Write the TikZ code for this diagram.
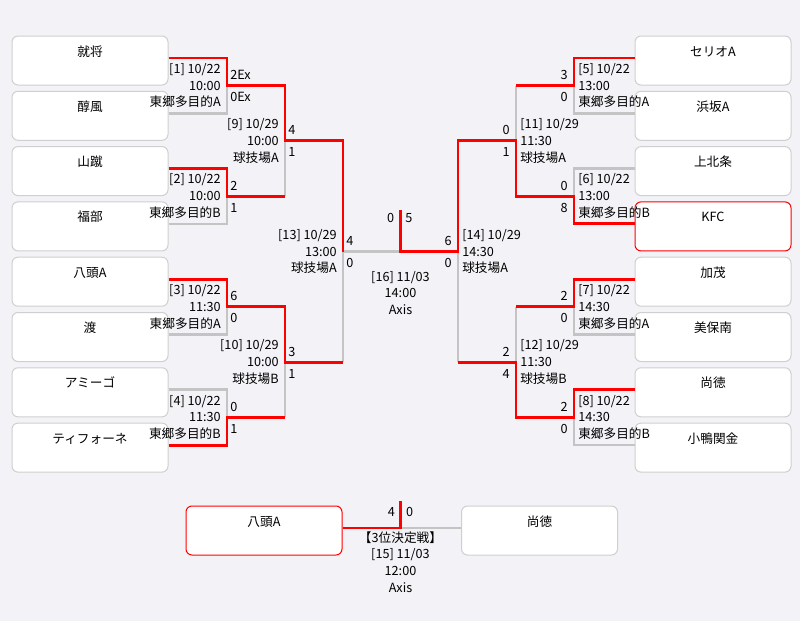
\documentclass[tikz,border=0pt]{standalone}
\usepackage{fontspec}
\setmainfont{Noto Sans CJK JP}
\usetikzlibrary{positioning}
\definecolor{bgcol}{HTML}{F3F2F6}
\definecolor{boxcol}{HTML}{CFCFCF}
\definecolor{losscol}{HTML}{C4C4C4}
\definecolor{wincol}{HTML}{FF0000}
\tikzset{
  teambox/.style={draw=boxcol,fill=white,rounded corners=4.5pt,line width=0.75pt,minimum width=117pt,minimum height=36.75pt,inner sep=0pt,text height=15pt,text depth=21.75pt},
  champbox/.style={teambox,draw=wincol},
  lossline/.style={draw=losscol,line width=2pt},
  winline/.style={draw=wincol,line width=2.2pt},
  linfo/.style={anchor=east,xshift=-4.5pt,align=right,inner sep=0pt},
  rinfo/.style={anchor=west,xshift=3pt,align=left,inner sep=0pt},
  lscore/.style={anchor=west,xshift=2.25pt,inner sep=0pt},
  rscore/.style={anchor=east,xshift=-4.5pt,inner sep=0pt}
}
\begin{document}
\begin{tikzpicture}[x=0.75pt,y=-0.75pt,font=\fontsize{9.5}{12.6}\selectfont]
\fill[bgcol] (0,0) rectangle (800,621);
\useasboundingbox (0,0) rectangle (800,621);
% teams
\foreach \Name/\Tag/\Row/\Sty in {就将/L1/0/teambox,醇風/L2/1/teambox,山蹴/L3/2/teambox,福部/L4/3/teambox,八頭A/L5/4/teambox,渡/L6/5/teambox,アミーゴ/L7/6/teambox,ティフォーネ/L8/7/teambox}
  \node[\Sty] (\Tag) at (90,{60.5+55.3*\Row}) {\Name};
\foreach \Name/\Tag/\Row/\Sty in {セリオA/R1/0/teambox,浜坂A/R2/1/teambox,上北条/R3/2/teambox,KFC/R4/3/champbox,加茂/R5/4/teambox,美保南/R6/5/teambox,尚徳/R7/6/teambox,小鴨関金/R8/7/teambox}
  \node[\Sty] (\Tag) at (713,{60.5+55.3*\Row}) {\Name};
\node[champbox] (B1) at (264,530.5) {八頭A};
\node[teambox] (B2) at (539.5,530.5) {尚徳};
% junctions
\foreach \Tag/\X/\Y in {j1/227/85.65,j2/227/196.25,j3/227/306.85,j4/227/417.45,m1/285/85.65,m2/285/196.25,m3/285/306.85,m4/285/417.45,j9/285/140.95,j10/285/362.15,m9/343/140.95,m10/343/362.15,j13/343/251.55,f/400.5/251.55,ftop/400.5/210,j5/574/85.65,j6/574/196.25,j7/574/306.85,j8/574/417.45,m5/516/85.65,m6/516/196.25,m7/516/306.85,m8/516/417.45,j11/516/140.95,j12/516/362.15,m11/458/140.95,m12/458/362.15,j14/458/251.55,t3/400.5/528,t3top/400.5/501}
  \coordinate (\Tag) at (\X,\Y);
% losers
\draw[lossline] ([yshift=1.875pt]L2.east) -| (j1);
\draw[lossline] ([yshift=1.875pt]L4.east) -| (j2);
\draw[lossline] ([yshift=1.875pt]L6.east) -| (j3);
\draw[lossline] ([yshift=1.875pt]L7.east) -| (j4);
\draw[lossline] (m2) -- (j9) (m4) -- (j10) (m10) -- (j13) -- (f);
\draw[lossline] ([yshift=1.875pt]R2.west) -| (j5);
\draw[lossline] ([yshift=1.875pt]R3.west) -| (j6);
\draw[lossline] ([yshift=1.875pt]R6.west) -| (j7);
\draw[lossline] ([yshift=1.875pt]R8.west) -| (j8);
\draw[lossline] (m5) -- (j11) (m7) -- (j12) (m12) -- (j14);
\draw[lossline] (t3) -- ([yshift=1.875pt]B2.west);
% winners
\draw[winline] ([yshift=1.875pt]L1.east) -| (j1) -- (m1) -- (j9) -- (m9) -- (j13);
\draw[winline] ([yshift=1.875pt]L3.east) -| (j2) -- (m2);
\draw[winline] ([yshift=1.875pt]L5.east) -| (j3) -- (m3) -- (j10) -- (m10);
\draw[winline] ([yshift=1.875pt]L8.east) -| (j4) -- (m4);
\draw[winline] ([yshift=1.875pt]R1.west) -| (j5) -- (m5);
\draw[winline] ([yshift=1.875pt]R4.west) -| (j6) -- (m6) -- (j11) -- (m11) -- (j14) -- (f) -- (ftop);
\draw[winline] ([yshift=1.875pt]R5.west) -| (j7) -- (m7);
\draw[winline] ([yshift=1.875pt]R7.west) -| (j8) -- (m8) -- (j12) -- (m12);
\draw[winline] ([yshift=1.875pt]B1.east) -| (t3top);
% scores
\foreach \At/\Top/\Bot in {j1/2Ex/0Ex,j2/2/1,j3/6/0,j4/0/1,j9/4/1,j10/3/1,j13/4/0}{
  \node[lscore,yshift=7.9pt] (\At-a) at (\At) {\Top};
  \node[lscore,yshift=-8.6pt] (\At-b) at (\At) {\Bot};}
\foreach \At/\Top/\Bot in {j5/3/0,j6/0/8,j7/2/0,j8/2/0,j11/0/1,j12/2/4,j14/6/0}{
  \node[rscore,yshift=7.9pt] (\At-a) at (\At) {\Top};
  \node[rscore,yshift=-8.6pt] (\At-b) at (\At) {\Bot};}
\node[anchor=east,xshift=-4.5pt,yshift=-6pt,inner sep=0pt] (f-a) at (ftop) {0};
\node[anchor=west,xshift=3.5pt,yshift=-6pt,inner sep=0pt] (f-b) at (ftop) {5};
\node[anchor=east,xshift=-4pt,yshift=-8.25pt,inner sep=0pt] (t3-a) at (t3top) {4};
\node[anchor=west,xshift=4pt,yshift=-8.25pt,inner sep=0pt] (t3-b) at (t3top) {0};
% match info
\node[linfo] (i1) at (j1) {[1] 10/22\\10:00\\東郷多目的A};
\node[linfo] (i2) at (j2) {[2] 10/22\\10:00\\東郷多目的B};
\node[linfo] (i3) at (j3) {[3] 10/22\\11:30\\東郷多目的A};
\node[linfo] (i4) at (j4) {[4] 10/22\\11:30\\東郷多目的B};
\node[linfo] (i9) at (j9) {[9] 10/29\\10:00\\球技場A};
\node[linfo] (i10) at (j10) {[10] 10/29\\10:00\\球技場B};
\node[linfo] (i13) at (j13) {[13] 10/29\\13:00\\球技場A};
\node[rinfo] (i5) at (j5) {[5] 10/22\\13:00\\東郷多目的A};
\node[rinfo] (i6) at (j6) {[6] 10/22\\13:00\\東郷多目的B};
\node[rinfo] (i7) at (j7) {[7] 10/22\\14:30\\東郷多目的A};
\node[rinfo] (i8) at (j8) {[8] 10/22\\14:30\\東郷多目的B};
\node[rinfo] (i11) at (j11) {[11] 10/29\\11:30\\球技場A};
\node[rinfo] (i12) at (j12) {[12] 10/29\\11:30\\球技場B};
\node[rinfo] (i14) at (j14) {[14] 10/29\\14:30\\球技場A};
\node[align=center,inner sep=0pt] (i16) at (400.5,293) {[16] 11/03\\14:00\\Axis};
\node[align=center,inner sep=0pt] (i15) at (400.5,562) {【3位決定戦】\\{}[15] 11/03\\12:00\\Axis};
\end{tikzpicture}
\end{document}
